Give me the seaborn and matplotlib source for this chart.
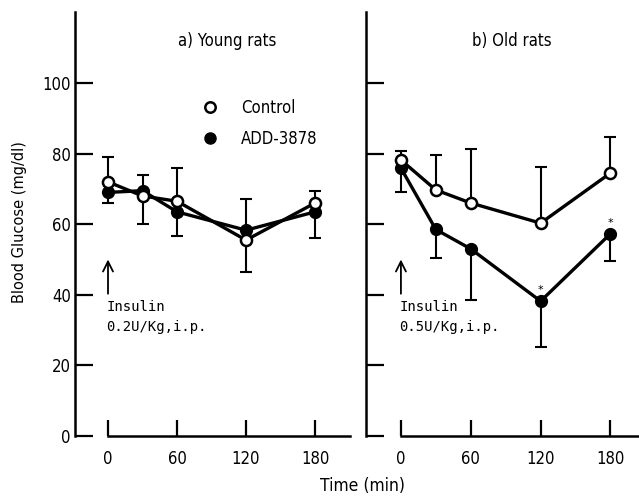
import matplotlib
matplotlib.use("Agg")
import matplotlib.pyplot as plt
from matplotlib import font_manager
from matplotlib.lines import Line2D
import numpy as np
import seaborn as sns

# ---------------- data ----------------
times = [0, 30, 60, 120, 180]
xtick_vals = [0, 60, 120, 180]
ytick_vals = [0, 20, 40, 60, 80, 100]

young_control = [72, 68, 66.5, 55.5, 66]
young_control_err_hi = [7, 0, 9.5, 0, 3.4]
young_control_err_lo = [0, 8, 0, 9, 0]
young_add = [69, 69.5, 63.5, 58.3, 63.5]
young_add_err_hi = [0, 4.5, 0, 8.7, 0]
young_add_err_lo = [3, 0, 6.8, 0, 7.5]

old_control = [78.2, 69.7, 66, 60.3, 74.5]
old_control_err_hi = [2.5, 9.8, 15.3, 16, 10.2]
old_control_err_lo = [0, 0, 0, 0, 0]
old_add = [75.9, 58.5, 53, 38.2, 57.3]
old_add_err_hi = [0, 0, 0, 0, 0]
old_add_err_lo = [6.9, 8.1, 14.5, 13, 7.7]
old_add_sig = [False, False, False, True, True]

panel_titles = ["a) Young rats", "b) Old rats"]
insulin_labels = ["Insulin\n0.2U/Kg,i.p.", "Insulin\n0.5U/Kg,i.p."]
legend_labels = ["Control", "ADD-3878"]

# ---------------- fonts ----------------
sns.set_style("ticks")
avail = {f.name for f in font_manager.fontManager.ttflist}
cond_dv = [f for f in font_manager.fontManager.ttflist
           if f.name == "DejaVu Sans" and f.stretch in ("condensed", "semi-condensed")]
if "Liberation Sans Narrow" in avail:
    nfont = dict(family=["Liberation Sans Narrow", "DejaVu Sans"])
    tick_fs, title_fs, xl_fs = 13.5, 13, 14
elif cond_dv:
    nfont = dict(family=["DejaVu Sans"], stretch="condensed")
    tick_fs, title_fs, xl_fs = 12, 12, 12.5
else:
    nfont = dict(family=["DejaVu Sans"])
    tick_fs, title_fs, xl_fs = 10.5, 11, 11.5
plt.rcParams["font.family"] = ["DejaVu Sans"]
plt.rcParams.update({"axes.edgecolor": "black", "xtick.color": "black",
                     "ytick.color": "black", "text.color": "black",
                     "axes.labelcolor": "black"})

fig = plt.figure(figsize=(6.39, 4.98), dpi=100)
W, H = 639, 498
ax1 = fig.add_axes([75 / W, 62 / H, 275 / W, 423.6 / H])
ax2 = fig.add_axes([366 / W, 62 / H, 273 / W, 423.6 / H])

panels = [
    (ax1, (-28.7, 210.4), young_control, young_control_err_lo, young_control_err_hi,
     young_add, young_add_err_lo, young_add_err_hi, [False] * 5),
    (ax2, (-30.0, 204.5), old_control, old_control_err_lo, old_control_err_hi,
     old_add, old_add_err_lo, old_add_err_hi, old_add_sig),
]

for i, (ax, xl, c, clo, chi, a, alo, ahi, sig) in enumerate(panels):
    t = np.array(times, dtype=float)
    # error bars (one-sided)
    for vals, lo, hi in [(c, clo, chi), (a, alo, ahi)]:
        vals = np.array(vals, float); lo = np.array(lo, float); hi = np.array(hi, float)
        m = hi > 0
        ax.errorbar(t[m], vals[m], yerr=[np.zeros(m.sum()), hi[m]], fmt="none",
                    ecolor="black", elinewidth=1.5, capsize=4.5, capthick=1.5, zorder=1)
        m = lo > 0
        ax.errorbar(t[m], vals[m], yerr=[lo[m], np.zeros(m.sum())], fmt="none",
                    ecolor="black", elinewidth=1.5, capsize=4.5, capthick=1.5, zorder=1)
    # lines
    sns.lineplot(x=times, y=a, ax=ax, color="black", lw=2.4, marker="o",
                 markersize=8, markerfacecolor="black", markeredgecolor="black",
                 markeredgewidth=1.5, errorbar=None, zorder=3)
    sns.lineplot(x=times, y=c, ax=ax, color="black", lw=2.4, marker="o",
                 markersize=8, markerfacecolor="white", markeredgecolor="black",
                 markeredgewidth=1.8, errorbar=None, zorder=4)
    for tt, v, s in zip(times, a, sig):
        if s:
            ax.annotate("*", (tt, v), xytext=(0, 8), textcoords="offset points",
                        ha="center", va="center", fontsize=8)

    ax.set_xlim(*xl)
    ax.set_ylim(0, 120)
    ax.set_xticks(xtick_vals)
    ax.set_yticks(ytick_vals)
    ax.set_xticklabels([str(v) for v in xtick_vals], fontsize=tick_fs, **nfont)
    if i == 0:
        ax.set_yticklabels([str(v) for v in ytick_vals], fontsize=tick_fs, **nfont)
    else:
        ax.set_yticklabels([])
    ax.tick_params(axis="y", direction="in", length=13, width=1.6, pad=3)
    ax.tick_params(axis="x", direction="in", length=11.5, width=1.6, pad=10)
    for s in ["top", "right"]:
        ax.spines[s].set_visible(False)
    for s in ["left", "bottom"]:
        ax.spines[s].set_linewidth(1.8)
    ax.spines["bottom"].set_bounds(0, xl[1])
    ax.spines["left"].set_bounds(0, 120)
    ax.set_xlabel("")
    ax.set_ylabel("")
    ax.patch.set_alpha(0)

    # title inside panel
    tx = 104 if i == 0 else 95
    ax.text(tx, 112, panel_titles[i], ha="center", va="center", fontsize=title_fs, **nfont)
    # insulin arrow
    ax.annotate("", xy=(0, 50), xytext=(0, 40.3),
                arrowprops=dict(arrowstyle="->", lw=1.3, color="black", mutation_scale=18,
                                shrinkA=0, shrinkB=0))
    ax.text(-1.5, 33.6, insulin_labels[i], ha="left", va="center",
            family="DejaVu Sans Mono", fontsize=10, linespacing=1.55)

# legend
handles = [Line2D([], [], marker="o", ls="none", markersize=7.5, markerfacecolor="white",
                  markeredgecolor="black", markeredgewidth=1.8, color="black"),
           Line2D([], [], marker="o", ls="none", markersize=8, markerfacecolor="black",
                  markeredgecolor="black", color="black")]
leg = ax1.legend(handles, legend_labels, loc="center left",
                 bbox_to_anchor=(202 / W, (H - 123.5) / H), bbox_transform=fig.transFigure,
                 frameon=False, handlelength=1.0, handletextpad=1.35, labelspacing=0.75,
                 borderpad=0, borderaxespad=0, prop=dict(size=title_fs, **nfont))

fig.text(20 / W, (H - 222) / H, "Blood Glucose (mg/dl)", rotation=90, ha="center",
         va="center", fontsize=10.5)
fig.text(362 / W, (H - 486) / H, "Time (min)", ha="center", va="center",
         fontsize=xl_fs, **nfont)

fig.savefig("out.png", dpi=100)
